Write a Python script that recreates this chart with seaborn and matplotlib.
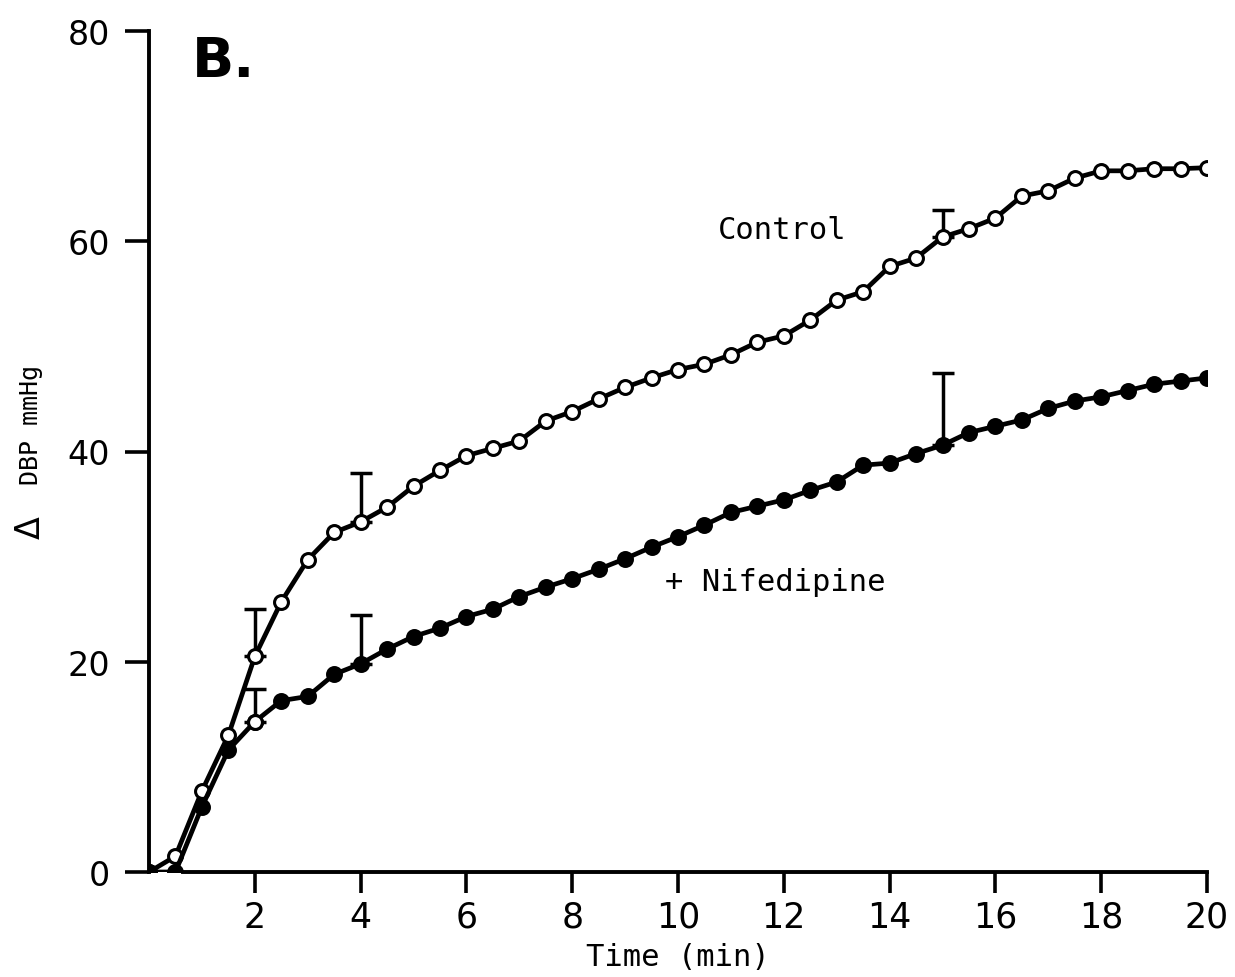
import matplotlib
matplotlib.use("Agg")
import matplotlib.pyplot as plt
import seaborn as sns
import pandas as pd
import numpy as np

# ---- data ----
time_min = [i * 0.5 for i in range(41)]
control = [0, 1.5, 7.7, 13.0, 20.5, 25.7, 29.7, 32.3, 33.3, 34.7, 36.7, 38.2, 39.6,
           40.3, 41.0, 42.9, 43.8, 45.0, 46.1, 47.0, 47.8, 48.3, 49.2, 50.4, 51.0,
           52.5, 54.4, 55.2, 57.6, 58.4, 60.4, 61.2, 62.2, 64.3, 64.8, 66.0, 66.7,
           66.7, 66.9, 66.9, 67.0]
nifedipine = [0, 0, 6.2, 11.6, 14.3, 16.3, 16.7, 18.8, 19.8, 21.2, 22.4, 23.2, 24.3,
              25.0, 26.2, 27.1, 27.9, 28.8, 29.8, 30.9, 31.9, 33.0, 34.2, 34.8, 35.4,
              36.3, 37.1, 38.7, 38.9, 39.8, 40.6, 41.8, 42.4, 43.0, 44.1, 44.8, 45.2,
              45.8, 46.4, 46.7, 47.0]
err_times = [2, 4, 15]
control_err = [4.5, 4.7, 2.6]
nifedipine_err = [3.1, 4.6, 6.9]
x_ticks = [2, 4, 6, 8, 10, 12, 14, 16, 18, 20]
y_ticks = [0, 20, 40, 60, 80]

df = pd.DataFrame({"time": time_min, "Control": control, "Nifedipine": nifedipine})

sns.set_theme(style="white")
plt.rcParams['font.family'] = ['DejaVu Sans']

fig = plt.figure(figsize=(12.35, 9.78), dpi=100)
ax = fig.add_axes([149 / 1235, 105 / 978, (1207 - 149) / 1235, (873 - 32) / 978])

lw = 3.4
ms = 10
mew = 2.2

sns.lineplot(data=df, x="time", y="Control", ax=ax, color="black", linewidth=lw,
             marker="o", markersize=ms, markerfacecolor="white",
             markeredgecolor="black", markeredgewidth=mew, zorder=3)
sns.lineplot(data=df, x="time", y="Nifedipine", ax=ax, color="black", linewidth=lw,
             marker="o", markersize=ms, markerfacecolor="black",
             markeredgecolor="black", markeredgewidth=mew, zorder=3)

# error bars (upper only)
tarr = np.array(time_min)
for t, e in zip(err_times, control_err):
    v = control[int(np.argmin(np.abs(tarr - t)))]
    ax.errorbar([t], [v], yerr=[[0], [e]], fmt="none", ecolor="black",
                elinewidth=2.5, capsize=8, capthick=2.5, zorder=2)
for t, e in zip(err_times, nifedipine_err):
    i = int(np.argmin(np.abs(tarr - t)))
    v = nifedipine[i]
    ax.errorbar([t], [v], yerr=[[0], [e]], fmt="none", ecolor="black",
                elinewidth=2.5, capsize=8, capthick=2.5, zorder=2)

# the open-looking nifedipine point at 2 min
i2 = int(np.argmin(np.abs(tarr - 2)))
ax.plot([time_min[i2]], [nifedipine[i2]], "o", ms=ms, mfc="white", mec="black",
        mew=mew, zorder=4)

ax.set_xlim(0, 20)
ax.set_ylim(0, 80)
ax.set_xticks(x_ticks)
ax.set_yticks(y_ticks)
ax.set_xticklabels([str(v) for v in x_ticks], fontsize=25)
ax.set_yticklabels([str(v) for v in y_ticks], fontsize=24)
ax.tick_params(axis="x", direction="out", length=15, width=2.6, pad=5,
               bottom=True, color="black", labelcolor="black")
ax.tick_params(axis="y", direction="out", length=17, width=2.6, pad=11,
               left=True, color="black", labelcolor="black")

for s in ["top", "right"]:
    ax.spines[s].set_visible(False)
for s in ["left", "bottom"]:
    ax.spines[s].set_color("black")
    ax.spines[s].set_linewidth(2.8)
ax.spines["bottom"].set_bounds(0.65, 20)
ax.grid(False)

ax.set_xlabel("Time (min)", fontsize=22, family="DejaVu Sans Mono", labelpad=6,
              color="black")
ax.set_ylabel("")

# y label: delta larger than the rest
fig.text(30 / 1235, 1 - 528 / 978, "Δ", rotation=90, fontsize=24,
         ha="center", va="center", color="black")
fig.text(31 / 1235, 1 - 425 / 978, "DBP mmHg", rotation=90, fontsize=18,
         ha="center", va="center", color="black", family="DejaVu Sans Mono")

ax.text(10.76, 60.3, "Control", fontsize=22, family="DejaVu Sans Mono",
        ha="left", va="baseline", color="black")
ax.text(9.75, 26.8, "+ Nifedipine", fontsize=22, family="DejaVu Sans Mono",
        ha="left", va="baseline", color="black")
ax.text(0.81, 75.7, "B.", fontsize=40, fontweight="bold", ha="left",
        va="baseline", color="black", clip_on=False)

fig.savefig("out.png", dpi=100, facecolor="white")
